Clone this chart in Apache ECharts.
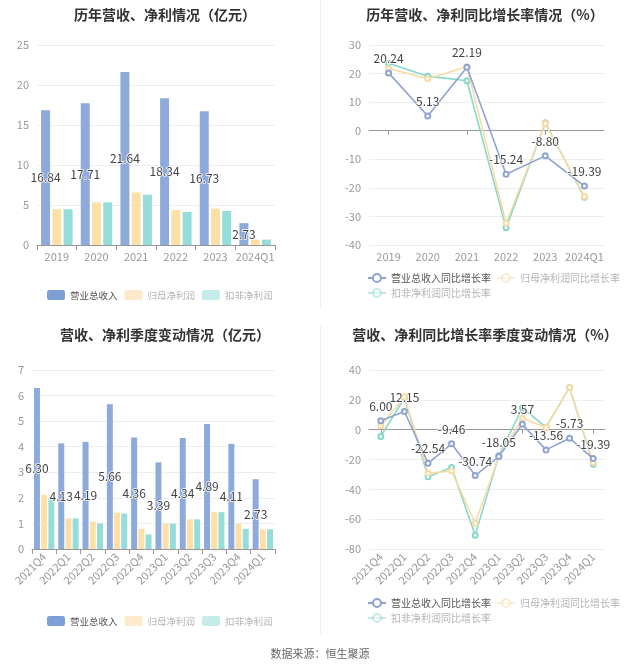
<!DOCTYPE html>
<html><head><meta charset="utf-8">
<script src="https://cdn.jsdelivr.net/npm/echarts@6/dist/echarts.min.js"></script>
<style>html,body{margin:0;padding:0;background:#fff}#c{width:640px;height:670px}</style>
</head><body><div id="c"></div>
<script>
const yearCats = ['2019','2020','2021','2022','2023','2024Q1'];
const yearRevenue = [16.84,17.71,21.64,18.34,16.73,2.73];
const yearNetProfit = [4.50,5.33,6.58,4.38,4.54,0.67];
const yearDeducted = [4.46,5.33,6.29,4.13,4.25,0.67];
const yearRevenueGrowth = [20.24,5.13,22.19,-15.24,-8.80,-19.39];
const yearNetGrowth = [21.8,18.2,22.4,-32.4,2.5,-23.0];
const yearDeductedGrowth = [23.6,19.1,17.5,-34.0,2.8,-23.3];

const qCats = ['2021Q4','2022Q1','2022Q2','2022Q3','2022Q4','2023Q1','2023Q2','2023Q3','2023Q4','2024Q1'];
const qRevenue = [6.30,4.13,4.19,5.66,4.36,3.39,4.34,4.89,4.11,2.73];
const qNetProfit = [2.12,1.20,1.07,1.42,0.79,0.99,1.16,1.44,0.99,0.77];
const qDeducted = [1.96,1.20,1.00,1.39,0.57,0.99,1.16,1.44,0.79,0.77];
const qRevenueGrowth = [6.00,12.15,-22.54,-9.46,-30.74,-18.05,3.57,-13.56,-5.73,-19.39];
const qNetGrowth = [2.7,22.0,-29.2,-27.7,-62.7,-18.0,7.6,1.5,28.3,-22.0];
const qDeductedGrowth = [-4.5,21.4,-31.5,-25.4,-70.7,-17.4,14.7,1.6,28.3,-23.2];

const titles = ['历年营收、净利情况（亿元）','历年营收、净利同比增长率情况（%）','营收、净利季度变动情况（亿元）','营收、净利同比增长率季度变动情况（%）'];
const barNames = ['营业总收入','归母净利润','扣非净利润'];
const lineNames = ['营业总收入同比增长率','归母净利润同比增长率','扣非净利润同比增长率'];
const source = '数据来源：恒生聚源';

const C_BLUE = '#8eaadb', C_YEL = '#fde0a8', C_TEAL = '#95ddd8';
const L_BLUE = '#8fa3d3', L_YEL = '#f8dca3', L_TEAL = '#86d8cd';
const FONT = '"Noto Sans CJK SC", sans-serif';

const chart = echarts.init(document.getElementById('c'), null, {renderer:'canvas'});

function title(text, x, y){
  return {text, left:x, top:y, textAlign:'center',
    textStyle:{fontSize:14, fontWeight:'bold', color:'#333', fontFamily:FONT}};
}
const yLab = {color:'#999', fontSize:11, fontFamily:FONT};
const split = {lineStyle:{color:'#eeeeee'}};

function barLegend(top){
  return {top, left:42, itemWidth:18, itemHeight:10, itemGap:7,
    textStyle:{fontSize:9.5, fontFamily:FONT, color:'#666'},
    data:[
      {name:barNames[0], icon:'roundRect', itemStyle:{color:'#7e9fd6'}, textStyle:{color:'#555'}},
      {name:barNames[1], icon:'roundRect', itemStyle:{color:'#feeacb'}, textStyle:{color:'#b5b5b5'}},
      {name:barNames[2], icon:'roundRect', itemStyle:{color:'#c3ecea'}, textStyle:{color:'#b5b5b5'}}
    ]};
}
function lineLegend(top){
  return {top, left:362, width:275, itemWidth:18, itemHeight:10, itemGap:5,
    textStyle:{fontSize:10, fontFamily:FONT, color:'#666'},
    data:[
      {name:lineNames[0], textStyle:{color:'#555'}},
      {name:lineNames[1], itemStyle:{opacity:0.5}, lineStyle:{opacity:0.5}, textStyle:{color:'#b5b5b5'}},
      {name:lineNames[2], itemStyle:{opacity:0.5}, lineStyle:{opacity:0.5}, textStyle:{color:'#b5b5b5'}}
    ]};
}

const barLabel = {show:true, position:'inside', color:'#444', fontSize:12, fontFamily:FONT,
  textBorderColor:'#fff', textBorderWidth:1.5, formatter: p => p.value.toFixed(2)};
const lineLabel = {show:true, position:'top', color:'#444', fontSize:12, fontFamily:FONT,
  textBorderColor:'#fff', textBorderWidth:1.5, formatter: p => p.value.toFixed(2)};

function bars(xi, yi, data, bw, gap){
  return [
    {name:barNames[0], type:'bar', xAxisIndex:xi, yAxisIndex:yi, data:data[0], barWidth:bw, barGap:gap,
      itemStyle:{color:C_BLUE}, label:barLabel, z:2},
    {name:barNames[1], type:'bar', xAxisIndex:xi, yAxisIndex:yi, data:data[1], barWidth:bw, barGap:gap,
      itemStyle:{color:C_YEL}},
    {name:barNames[2], type:'bar', xAxisIndex:xi, yAxisIndex:yi, data:data[2], barWidth:bw, barGap:gap,
      itemStyle:{color:C_TEAL}}
  ];
}
function lines(xi, yi, data){
  const mk = (name, d, col, lab, z) => ({name, type:'line', xAxisIndex:xi, yAxisIndex:yi, data:d,
    symbol:'emptyCircle', symbolSize:5, lineStyle:{color:col, width:1.6}, itemStyle:{color:col, borderWidth:1.3},
    label: lab ? lineLabel : {show:false}, z});
  return [
    mk(lineNames[2], data[2], L_TEAL, false, 2),
    mk(lineNames[1], data[1], L_YEL, false, 3),
    mk(lineNames[0], data[0], L_BLUE, true, 4)
  ];
}

const grids = [
  {left:37, top:45, width:238, height:200},
  {left:369, top:45, width:235, height:200},
  {left:32, top:370, width:243, height:179},
  {left:369, top:370, width:236, height:179}
];

const catAxisBar = (gi, cats, rot) => ({type:'category', gridIndex:gi, data:cats, position:'bottom',
  axisLine:{lineStyle:{color:'#999'}}, axisTick:{show:true, lineStyle:{color:'#999'}},
  axisLabel:{color:'#999', fontSize:11, fontFamily:FONT, rotate:rot, interval:0, margin:6}});
const catAxisLabelsOnly = (gi, cats, rot) => ({type:'category', gridIndex:gi, data:cats, position:'bottom',
  axisLine:{show:false, onZero:false}, axisTick:{show:false},
  axisLabel:{color:'#999', fontSize:11, fontFamily:FONT, rotate:rot, interval:0, margin:6}});
const catAxisZero = (gi, cats) => ({type:'category', gridIndex:gi, data:cats, position:'bottom',
  axisLine:{show:true, onZero:true, lineStyle:{color:'#999'}},
  axisTick:{show:true, alignWithLabel:true, length:4, lineStyle:{color:'#999'}},
  axisLabel:{show:false}});
const valAxis = (gi, min, max, iv) => ({type:'value', gridIndex:gi, min, max, interval:iv,
  axisLine:{show:false}, axisTick:{show:false}, axisLabel:yLab, splitLine:split});

const option = {
  animation:false,
  textStyle:{fontFamily:FONT},
  title:[title(titles[0],160,3), title(titles[1],480,3), title(titles[2],160,323), title(titles[3],480,323)],
  legend:[ barLegend(285), lineLegend(268), barLegend(611), lineLegend(593) ],
  grid:grids,
  xAxis:[
    catAxisBar(0, yearCats, 0),
    catAxisLabelsOnly(1, yearCats, 0),
    catAxisZero(1, yearCats),
    catAxisBar(2, qCats, 45),
    catAxisLabelsOnly(3, qCats, 45),
    catAxisZero(3, qCats)
  ],
  yAxis:[
    valAxis(0, 0, 25, 5),
    valAxis(1, -40, 30, 10),
    valAxis(2, 0, 7, 1),
    valAxis(3, -80, 40, 20)
  ],
  series:[].concat(
    bars(0, 0, [yearRevenue, yearNetProfit, yearDeducted], 9, '25%'),
    lines(1, 1, [yearRevenueGrowth, yearNetGrowth, yearDeductedGrowth]),
    bars(3, 2, [qRevenue, qNetProfit, qDeducted], 6, '20%'),
    lines(4, 3, [qRevenueGrowth, qNetGrowth, qDeductedGrowth])
  ),
  graphic:[
    {type:'line', shape:{x1:320.5, y1:0, x2:320.5, y2:307}, style:{stroke:'#eeeeee', lineWidth:1}},
    {type:'line', shape:{x1:320.5, y1:326, x2:320.5, y2:634}, style:{stroke:'#eeeeee', lineWidth:1}},
    {type:'text', left:'center', top:648, style:{text:source, fill:'#666', fontSize:11, fontFamily:FONT}}
  ]
};
chart.setOption(option);
</script></body></html>
